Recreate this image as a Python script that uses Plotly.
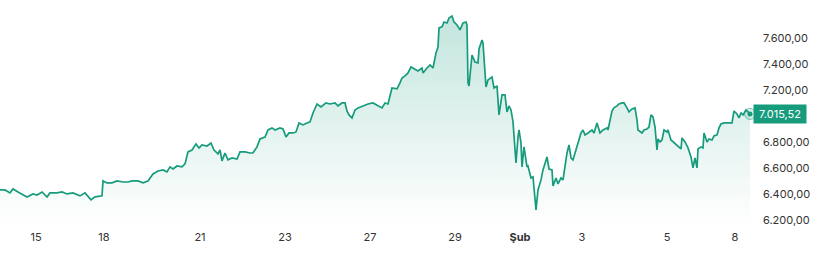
import plotly.graph_objects as go

# Session time index (position along the trading timeline) and index level
t = [0, 5, 10, 13, 18, 23, 27, 33, 37, 42, 47, 50, 57, 62, 67, 73, 80, 85, 91, 95,
     100, 102, 103, 107, 112, 117, 123, 128, 132, 138, 143, 148, 153, 158, 163, 167,
     170, 173, 177, 182, 185, 188, 192, 196, 199, 202, 207, 211, 214, 218, 220, 222,
     225, 228, 232, 237, 240, 245, 250, 253, 257, 260, 265, 268, 272, 275, 280, 283,
     286, 289, 293, 296, 299, 303, 307, 310, 313, 317, 321, 326, 330, 335, 338, 342,
     345, 347, 349, 352, 355, 358, 363, 368, 373, 377, 382, 385, 388, 392, 397, 400,
     402, 405, 408, 411, 414, 418, 422, 423, 427, 430, 433, 436, 438, 439, 442, 444,
     447, 449, 452, 454, 457, 460, 463, 466, 467, 468, 469, 471, 472, 475, 478, 479,
     482, 483, 486, 488, 492, 494, 497, 499, 502, 505, 507, 509, 511, 513, 516, 518,
     519, 521, 522, 524, 527, 528, 531, 533, 536, 538, 541, 543, 545, 547, 549, 552,
     553, 556, 558, 561, 563, 565, 567, 569, 571, 573, 576, 578, 581, 583, 585, 588,
     592, 594, 597, 600, 603, 607, 608, 612, 614, 617, 619, 622, 624, 627, 629, 632,
     635, 637, 638, 642, 644, 647, 649, 651, 653, 655, 657, 658, 660, 662, 664, 667,
     668, 671, 673, 676, 678, 681, 682, 685, 688, 691, 693, 695, 697, 698, 701, 703,
     704, 707, 709, 712, 714, 717, 719, 721, 724, 728, 732, 734, 737, 739, 741, 743,
     746, 748, 750]

values = [6431, 6431, 6408, 6438, 6415, 6392, 6377, 6400, 6392, 6415, 6377, 6408, 6408, 6415,
          6400, 6408, 6385, 6408, 6354, 6377, 6385, 6385, 6500, 6485, 6485, 6500, 6492, 6492,
          6500, 6500, 6485, 6500, 6554, 6577, 6585, 6569, 6608, 6592, 6615, 6608, 6631, 6723,
          6738, 6785, 6754, 6777, 6769, 6792, 6738, 6708, 6738, 6654, 6715, 6662, 6677, 6669,
          6723, 6723, 6715, 6715, 6762, 6823, 6838, 6892, 6908, 6892, 6908, 6900, 6838, 6869,
          6869, 6877, 6946, 6931, 6946, 6954, 7023, 7092, 7069, 7100, 7092, 7100, 7077, 7100,
          7100, 7038, 7008, 6985, 7046, 7062, 7077, 7092, 7100, 7085, 7062, 7100, 7092, 7215,
          7208, 7254, 7292, 7308, 7331, 7377, 7362, 7346, 7369, 7331, 7369, 7392, 7369, 7485,
          7531, 7677, 7685, 7723, 7715, 7754, 7769, 7723, 7700, 7662, 7715, 7723, 7700, 7254,
          7231, 7369, 7469, 7415, 7408, 7515, 7585, 7562, 7223, 7277, 7300, 7215, 7231, 7008,
          7162, 7162, 7031, 7077, 7046, 6954, 6638, 6838, 6892, 6792, 6608, 6762, 6608, 6615,
          6523, 6531, 6277, 6431, 6508, 6585, 6638, 6685, 6592, 6585, 6462, 6523, 6477, 6523,
          6508, 6608, 6715, 6777, 6677, 6662, 6738, 6777, 6869, 6892, 6854, 6869, 6892, 6869,
          6946, 6869, 6892, 6908, 6892, 7038, 7062, 7077, 7092, 7100, 7100, 7062, 7031, 7054,
          7062, 6969, 6892, 6869, 6892, 6900, 6915, 7008, 6992, 6915, 6738, 6823, 6800, 6815,
          6892, 6877, 6892, 6815, 6800, 6777, 6762, 6746, 6831, 6800, 6754, 6685, 6600, 6677,
          6600, 6746, 6762, 6754, 6869, 6800, 6823, 6815, 6846, 6854, 6908, 6938, 6946, 6946,
          6946, 7038, 7015, 6985, 7023, 7008, 7046, 7031, 7015.52]

tick_pos = [36, 104, 200, 285, 370, 455, 520, 582, 667, 735]
tick_labels = ["15", "18", "21", "23", "27", "29", "<b>Şub</b>", "3", "5", "8"]

y_ticks = [6200, 6400, 6600, 6800, 7200, 7400, 7600]

GREEN = "#179b7d"
FONT = "Inter, Roboto, Arial, sans-serif"


def tr_fmt(v):
    s = f"{v:,.2f}"
    return s.replace(",", "X").replace(".", ",").replace("X", ".")


fig = go.Figure()
fig.add_trace(go.Scatter(
    x=t, y=values, mode="lines",
    line=dict(color=GREEN, width=1.7),
    fill="tozeroy",
    fillgradient=dict(type="vertical",
                      colorscale=[[0, "rgba(23,155,125,0.0)"], [1, "rgba(23,155,125,0.28)"]],
                      start=6161, stop=7892),
    hoverinfo="skip", showlegend=False,
))
fig.add_trace(go.Scatter(
    x=[t[-1]], y=[values[-1]], mode="markers",
    marker=dict(size=11, color="rgba(23,155,125,0.15)",
                line=dict(color="rgba(23,155,125,0.55)", width=1)),
    showlegend=False, hoverinfo="skip", cliponaxis=False,
))
fig.add_trace(go.Scatter(
    x=[t[-1]], y=[values[-1]], mode="markers",
    marker=dict(size=5, color=GREEN),
    showlegend=False, hoverinfo="skip", cliponaxis=False,
))

fig.add_annotation(
    x=1, xref="paper", y=values[-1], yref="y",
    xanchor="left", yanchor="middle", xshift=3,
    text=tr_fmt(values[-1]), showarrow=False,
    font=dict(color="white", size=11, family=FONT),
    bgcolor=GREEN, borderpad=2, width=48, align="center",
)

fig.update_layout(
    width=820, height=265,
    margin=dict(l=0, r=70, t=0, b=40),
    paper_bgcolor="white", plot_bgcolor="white",
    separators=",.",
    font=dict(family=FONT, size=11, color="#333333"),
    xaxis=dict(range=[0, 750], tickmode="array", tickvals=tick_pos, ticktext=tick_labels,
               showgrid=False, zeroline=False, showline=False, ticks="",
               ticklabelstandoff=4,
               tickfont=dict(size=11, color="#333333")),
    yaxis=dict(range=[6161, 7892], side="right", tickmode="array", tickvals=y_ticks,
               ticktext=[tr_fmt(v) for v in y_ticks],
               showgrid=False, zeroline=False, showline=False, ticks="",
               ticklabelstandoff=12,
               tickfont=dict(size=11, color="#333333")),
)

fig.write_html("out.html")
